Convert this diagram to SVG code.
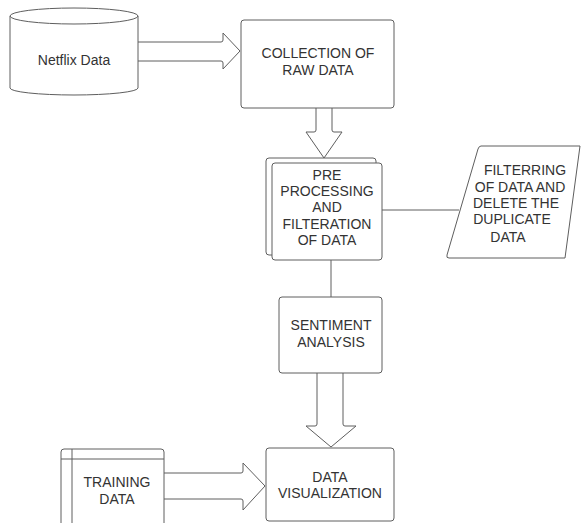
<svg xmlns="http://www.w3.org/2000/svg" width="582" height="523" viewBox="0 0 582 523">
<style>
.s{fill:#ffffff;stroke:#5e5e5e;stroke-width:1}
.l{fill:none;stroke:#5e5e5e;stroke-width:1}
text{font-family:"Liberation Sans",Arial,sans-serif;font-size:14px;fill:#333333;text-anchor:middle}
</style>
<rect width="582" height="523" fill="#ffffff"/>
<g id="connectors">
<path class="s" d="M138,42 L221,42 Q223,42 223,40 L223,33 L240,51 L223,69 L223,63 Q223,61 221,61 L138,61"/>
<path class="s" d="M316,108 L316,130 Q316,132 314,132 L306,132 L324,158 L342,132 L334,132 Q332,132 332,130 L332,108"/>
<path class="l" d="M382,210 L459,210"/>
<path class="l" d="M331,260 L331,297"/>
<path class="s" d="M317,373 L317,424 Q317,426 315,426 L306,426 L331,447 L356,426 L345,426 Q343,426 343,424 L343,373"/>
<path class="s" d="M164,473 L241,473 Q243,473 243,471 L243,463 L265,486 L243,510 L243,501 Q243,499 241,499 L164,499"/>
</g>
<g id="netflix">
<path class="s" d="M10,16 A64,8 0 0 1 138,16 L138,88 A64,7 0 0 1 10,88 Z"/>
<path class="l" d="M10,16 A64,8 0 0 0 138,16"/>
<text x="74" y="65">Netflix Data</text>
</g>
<g id="collection">
<rect class="s" x="241" y="20" width="153" height="88" rx="3"/>
<text x="318" y="58">COLLECTION OF</text>
<text x="318" y="75">RAW DATA</text>
</g>
<g id="preprocessing">
<rect class="s" x="266" y="158" width="110" height="97" rx="3"/>
<rect class="s" x="272" y="163" width="110" height="97" rx="3"/>
<text x="327" y="180">PRE</text>
<text x="327" y="196">PROCESSING</text>
<text x="327" y="212">AND</text>
<text x="327" y="229">FILTERATION</text>
<text x="327" y="245">OF DATA</text>
</g>
<g id="filtering">
<path class="s" d="M481,146 L580,146 L565,258 L449,258 Q446,258 447,255 L478,149 Q479,146 481,146 Z"/>
<text x="525" y="175">FILTERRING</text>
<text x="520" y="192">OF DATA AND</text>
<text x="516" y="208">DELETE THE</text>
<text x="512" y="224">DUPLICATE</text>
<text x="508" y="242">DATA</text>
</g>
<g id="sentiment">
<rect class="s" x="279" y="297" width="103" height="76" rx="3"/>
<text x="331" y="330">SENTIMENT</text>
<text x="331" y="347">ANALYSIS</text>
</g>
<g id="training">
<rect class="s" x="61" y="449" width="103" height="80" rx="3"/>
<path class="l" d="M61,459 L164,459 M72,449 L72,523"/>
<text x="117" y="487">TRAINING</text>
<text x="117" y="504">DATA</text>
</g>
<g id="visualization">
<rect class="s" x="266" y="448" width="128" height="73" rx="3"/>
<text x="330" y="482">DATA</text>
<text x="330" y="498">VISUALIZATION</text>
</g>
</svg>
